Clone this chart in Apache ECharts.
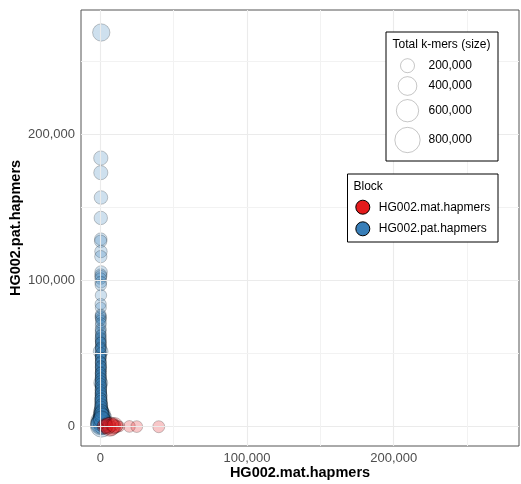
<!DOCTYPE html>
<html>
<head>
<meta charset="utf-8">
<script src="https://cdn.jsdelivr.net/npm/echarts@6/dist/echarts.min.js"></script>
<style>
  html, body { margin: 0; padding: 0; background: #ffffff; }
  #chart { width: 521px; height: 484px; }
</style>
</head>
<body>
<div id="chart"></div>
<script>
// Paternal-block hap-mer counts per block: maternal k-mers, paternal k-mers, total k-mers
const patBlockMat = [
  600, 300, 300, 400, 300, 300, 200, 400, 300, 500, 300, 400, 200, 300, 300, 400, 200, 300, 200, 300,
  300, 200, 300, 200, 300, 200, 300, 200, 400, 300, 300, 200, 300, 200, 300, 200, 300, 300, 200, 400,
  300, 200, 300, 300, 200, 400, 300, 300, 200, 300, 400, 300, 500, 300, 400, 600, 500, 700, 400, 900,
  600, 1200, 800, 1500, 400, 200, 1000, 700,
  200, 300, 400, 200, 300, 200, 300, 400, 200, 300, 200, 300, 400, 300, 200, 300, 500, 300, 400, 300,
  600, 400, 800, 500, 1100, 700, 900, 1300, 600, 300, 1800, 800,
  300, 200, 400, 300, 200, 300, 400, 200, 300, 400, 300, 200, 500, 300, 400, 600, 300, 500, 700, 400,
  900, 600, 1100, 800];
const patBlockPat = [
  270000, 184000, 174000, 157000, 143000, 128500, 127000, 120000, 116500, 106000, 104000, 103000, 101500, 99000, 97000, 90000, 84000, 81500, 76000, 75000,
  74000, 69500, 67000, 64500, 62500, 61500, 59500, 58500, 56500, 55500, 53500, 51500, 50000, 48000, 46500, 45000, 43500, 42000, 40500, 39000,
  38000, 36500, 35000, 34000, 32500, 31000, 30000, 28500, 27000, 25500, 24000, 23000, 21500, 20000, 18500, 17000, 15500, 14500, 13000, 11500,
  10000, 8500, 7000, 6000, 5000, 4000, 3000, 2000,
  77000, 73000, 71000, 66000, 63000, 60500, 57500, 54500, 52500, 49000, 47000, 44000, 41000, 37500, 33500, 29000, 26500, 22500, 19500, 16500,
  12500, 11000, 9500, 8000, 6500, 5500, 4500, 3500, 2500, 1500, 1000, 500,
  58000, 54000, 50500, 47500, 44500, 41500, 39500, 37000, 35500, 33000, 31500, 29500, 27500, 25000, 23500, 21000, 19000, 17500, 15000, 13500,
  10500, 9000, 7500, 5200];
const patBlockTotal = [
  335000, 210000, 205000, 185000, 180000, 150000, 150000, 150000, 145000, 150000, 140000, 130000, 125000, 130000, 120000, 120000, 115000, 110000, 105000, 120000,
  100000, 100000, 110000, 105000, 100000, 95000, 105000, 100000, 110000, 95000, 100000, 230000, 110000, 100000, 105000, 95000, 110000, 100000, 105000, 95000,
  100000, 110000, 105000, 100000, 110000, 105000, 200000, 110000, 105000, 120000, 110000, 115000, 130000, 120000, 140000, 130000, 150000, 160000, 150000, 180000,
  250000, 300000, 220000, 380000, 280000, 450000, 350000, 530000,
  100000, 95000, 105000, 100000, 95000, 110000, 100000, 105000, 100000, 110000, 100000, 105000, 110000, 100000, 110000, 120000, 115000, 125000, 130000, 140000,
  170000, 200000, 230000, 260000, 320000, 300000, 400000, 420000, 480000, 500000, 380000, 600000,
  95000, 100000, 105000, 95000, 100000, 105000, 110000, 100000, 105000, 110000, 100000, 110000, 115000, 120000, 115000, 125000, 130000, 135000, 140000, 150000,
  180000, 200000, 240000, 280000];

// Maternal-block hap-mer counts per block
const matBlockMat = [7500, 5000, 9000, 3000, 11000, 6000, 2000, 13000, 4000, 8000, 6500, 10000, 19800, 24800, 39800, 500];
const matBlockPat = [300, 600, 200, 400, 300, 100, 800, 200, 500, 1200, 0, 900, 200, 100, 0, 200];
const matBlockTotal = [380000, 300000, 220000, 250000, 150000, 180000, 120000, 100000, 200000, 160000, 420000, 260000, 130000, 130000, 135000, 10000];

// Axis labelling and grid
const tickValues = [0, 100000, 200000];
const gridMajor = [0, 100000, 200000];
const gridMinor = [50000, 150000, 250000];
const axisRange = [-13200, 285400];

// Size legend breaks
const sizeBreaks = [200000, 400000, 600000, 800000];
const blockNames = ['HG002.mat.hapmers', 'HG002.pat.hapmers'];
const blockColors = ['#E41A1C', '#377EB8'];

// Circle diameter (px) from total k-mers
function sizeOf(total) {
  return 2.7 + 0.8 * Math.sqrt(total / 1000);
}
const fmt = v => Math.round(v).toLocaleString('en-US');
const zip = (a, b, c) => a.map((v, i) => [v, b[i], c[i]]);

const FONT = 'Liberation Sans, Arial, sans-serif';

const chart = echarts.init(document.getElementById('chart'), null, { renderer: 'canvas' });

const gridLineData = [];
gridMajor.forEach(v => {
  gridLineData.push({ xAxis: v, lineStyle: { color: '#ebebeb', width: 1.1, type: 'solid' } });
  gridLineData.push({ yAxis: v, lineStyle: { color: '#ebebeb', width: 1.1, type: 'solid' } });
});
gridMinor.forEach(v => {
  gridLineData.push({ xAxis: v, lineStyle: { color: '#f2f2f2', width: 1, type: 'solid' } });
  gridLineData.push({ yAxis: v, lineStyle: { color: '#f2f2f2', width: 1, type: 'solid' } });
});

function axisCommon(name) {
  return {
    type: 'value',
    min: axisRange[0],
    max: axisRange[1],
    name: name,
    nameLocation: 'middle',
    nameMoveOverlap: false,
    nameTextStyle: { fontFamily: FONT, fontSize: 14.5, fontWeight: 'bold', color: '#000' },
    axisLine: { show: false },
    axisTick: { show: true, length: 4, customValues: tickValues, lineStyle: { color: '#333', width: 1 } },
    axisLabel: {
      customValues: tickValues,
      fontFamily: FONT, fontSize: 13, color: '#4d4d4d',
      formatter: v => fmt(v)
    },
    splitLine: { show: false }
  };
}

const xAxis = axisCommon('HG002.mat.hapmers');
xAxis.nameGap = 19;
xAxis.axisLabel.margin = 6;
const yAxis = axisCommon('HG002.pat.hapmers');
yAxis.nameGap = 58;
yAxis.axisLabel.margin = 6;

// Size legend layout
const LZ = 50;
const LEG_FS = 12;
const sizeBox = { x: 386, y: 32, w: 112, h: 129 };
const sizeRowsY = [65.7, 86, 110.7, 140];
const sizeLegend = [
  { type: 'rect', z: LZ, shape: { x: sizeBox.x, y: sizeBox.y, width: sizeBox.w, height: sizeBox.h },
    style: { fill: '#fff', stroke: '#000', lineWidth: 1 } },
  { type: 'text', z: LZ + 1, x: 392.5, y: 44.5, style: { text: 'Total k-mers (size)', fontFamily: FONT, fontSize: LEG_FS, fill: '#000', verticalAlign: 'middle' } }
];
sizeBreaks.forEach((v, i) => {
  sizeLegend.push({ type: 'circle', z: LZ + 1, shape: { cx: 407.5, cy: sizeRowsY[i], r: sizeOf(v) / 2 },
    style: { fill: '#fff', stroke: 'rgba(0,0,0,0.25)', lineWidth: 0.9 } });
  sizeLegend.push({ type: 'text', z: LZ + 1, x: 428.5, y: sizeRowsY[i], style: { text: fmt(v), fontFamily: FONT, fontSize: LEG_FS, fill: '#000', verticalAlign: 'middle' } });
});

const blockLegendBox = [
  { type: 'rect', z: LZ, shape: { x: 347.5, y: 174, width: 150.5, height: 68 },
    style: { fill: '#fff', stroke: '#000', lineWidth: 1 } },
  { type: 'text', z: LZ + 1, x: 353.5, y: 186.5, style: { text: 'Block', fontFamily: FONT, fontSize: LEG_FS, fill: '#000', verticalAlign: 'middle' } }
];

const option = {
  animation: false,
  backgroundColor: '#ffffff',
  grid: {
    left: 81, top: 10, right: 2, bottom: 38,
    containLabel: false,
    outerBoundsMode: 'none',
    show: true, backgroundColor: '#ffffff', borderColor: '#555555', borderWidth: 1
  },
  xAxis: xAxis,
  yAxis: yAxis,
  legend: {
    orient: 'vertical',
    left: 355.3,
    top: 199.7,
    padding: 0,
    itemWidth: 22,
    itemHeight: 14,
    itemGap: 6.6,
    icon: 'circle',
    textStyle: { fontFamily: FONT, fontSize: LEG_FS, color: '#000' },
    z: 60,
    data: blockNames.map((n, i) => ({
      name: n,
      itemStyle: { color: blockColors[i], opacity: 1, borderColor: '#000', borderWidth: 1 }
    }))
  },
  graphic: sizeLegend.concat(blockLegendBox),
  series: [
    {
      type: 'scatter',
      name: 'grid',
      data: [],
      silent: true,
      z: 1,
      markLine: {
        silent: true,
        symbol: ['none', 'none'],
        label: { show: false },
        emphasis: { disabled: true },
        data: gridLineData
      }
    },
    {
      type: 'scatter',
      name: blockNames[1],
      z: 2,
      data: zip(patBlockMat, patBlockPat, patBlockTotal),
      symbolSize: v => sizeOf(v[2]),
      itemStyle: { color: 'rgba(55,126,184,0.3)', borderColor: 'rgba(0,0,0,0.3)', borderWidth: 0.9 }
    },
    {
      type: 'scatter',
      name: blockNames[0],
      z: 3,
      data: zip(matBlockMat, matBlockPat, matBlockTotal),
      symbolSize: v => sizeOf(v[2]),
      itemStyle: { color: 'rgba(228,26,28,0.3)', borderColor: 'rgba(0,0,0,0.3)', borderWidth: 0.9 }
    }
  ]
};

chart.setOption(option);
</script>
</body>
</html>
